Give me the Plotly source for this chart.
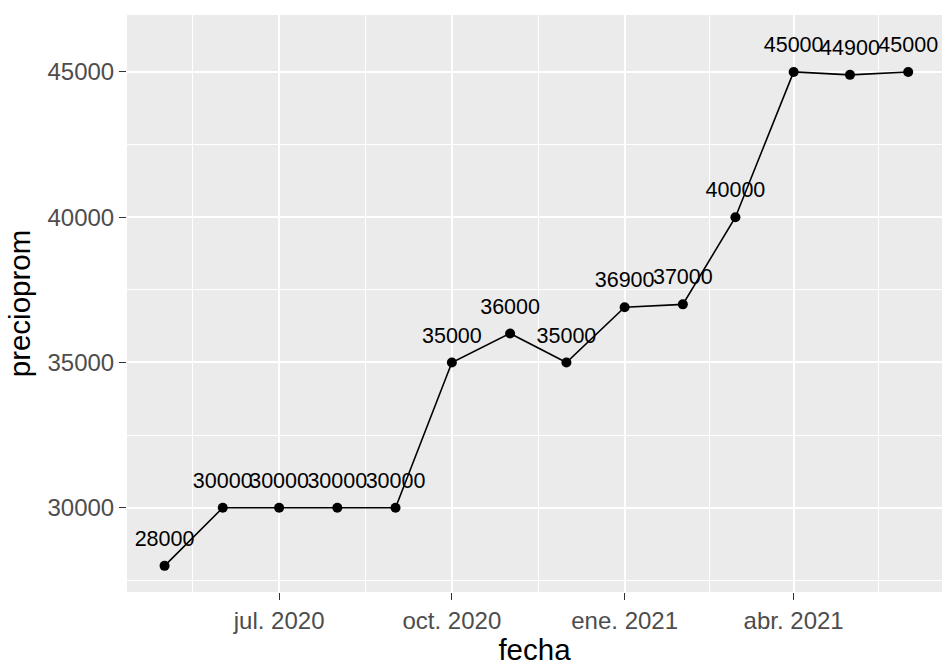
import plotly.graph_objects as go

# Monthly average price series
fecha = ["2020-05-01", "2020-06-01", "2020-07-01", "2020-08-01", "2020-09-01",
         "2020-10-01", "2020-11-01", "2020-12-01", "2021-01-01", "2021-02-01",
         "2021-03-01", "2021-04-01", "2021-05-01", "2021-06-01"]
precioprom = [28000, 30000, 30000, 30000, 30000, 35000, 36000, 35000,
              36900, 37000, 40000, 45000, 44900, 45000]

# Axis breaks and labels
x_breaks = ["2020-07-01", "2020-10-01", "2021-01-01", "2021-04-01"]
x_labels = ["jul. 2020", "oct. 2020", "ene. 2021", "abr. 2021"]
x_minor = ["2020-05-16", "2020-08-16", "2020-11-16", "2021-02-15", "2021-05-16"]
y_breaks = [30000, 35000, 40000, 45000]
y_labels = ["30000", "35000", "40000", "45000"]
y_minor = [27500, 32500, 37500, 42500]

label_nudge = 870
FONT = "Liberation Sans, Arial, sans-serif"

fig = go.Figure()

fig.add_trace(go.Scatter(
    x=fecha, y=precioprom, mode="lines+markers",
    line=dict(color="black", width=1.6),
    marker=dict(color="black", size=10),
    showlegend=False, hoverinfo="skip",
))

fig.add_trace(go.Scatter(
    x=fecha, y=[v + label_nudge for v in precioprom], mode="text",
    text=[str(v) for v in precioprom], textposition="middle center",
    textfont=dict(family=FONT, size=21.5, color="black"),
    showlegend=False, hoverinfo="skip",
))

axis_common = dict(
    showline=False, zeroline=False,
    gridcolor="white", gridwidth=1.8,
    ticks="outside", ticklen=7, tickwidth=1.3, tickcolor="#333333",
    tickfont=dict(family=FONT, size=24, color="#4D4D4D"),
)

fig.update_layout(
    width=942, height=666,
    margin=dict(l=127, r=0, t=15, b=74),
    paper_bgcolor="white", plot_bgcolor="#EBEBEB",
    xaxis=dict(
        type="date", range=["2020-04-11", "2021-06-19"],
        tickmode="array", tickvals=x_breaks, ticktext=x_labels,
        minor=dict(tickmode="array", tickvals=x_minor, showgrid=True,
                   gridcolor="white", gridwidth=1.0, ticks=""),
        title=dict(text="fecha", font=dict(family=FONT, size=29.5, color="black"),
                   standoff=4),
        **axis_common,
    ),
    yaxis=dict(
        range=[27100, 46960],
        tickmode="array", tickvals=y_breaks, ticktext=y_labels,
        minor=dict(tickmode="array", tickvals=y_minor, showgrid=True,
                   gridcolor="white", gridwidth=1.0, ticks=""),
        title=dict(text="precioprom", font=dict(family=FONT, size=29.5, color="black"),
                   standoff=8),
        **axis_common,
    ),
)

fig.write_html("out.html")
